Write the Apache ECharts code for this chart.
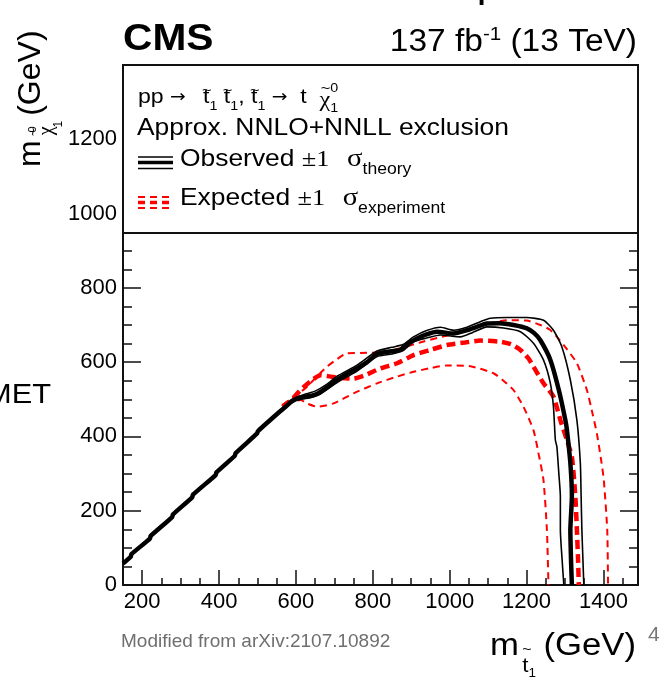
<!DOCTYPE html>
<html>
<head>
<meta charset="utf-8">
<script src="https://cdn.jsdelivr.net/npm/echarts@6/dist/echarts.min.js"></script>
<style>
  html, body { margin: 0; padding: 0; background: #fff; }
  #chart { width: 667px; height: 680px; }
</style>
</head>
<body>
<div id="chart"></div>
<script>
// stop mass (x) and neutralino mass (y), GeV
const obsStop = [150, 170, 172, 220, 222, 278, 280, 330, 332, 391, 393, 441, 443, 499, 501, 545, 573, 590, 603, 625, 646, 664, 685, 707, 735, 759, 785, 811, 840, 872, 880, 915, 940, 967, 1010, 1045, 1070, 1097, 1130, 1166, 1201, 1220, 1236, 1262, 1284, 1301, 1305, 1314, 1318, 1314, 1316, 1318];
const obsLsp = [58, 76, 83, 125, 132, 183, 190, 236, 243, 296, 303, 348, 355, 408, 414, 455, 480, 496, 502, 507, 511, 520, 535, 552, 570, 583, 600, 622, 628, 633, 641, 664, 675, 682, 677, 686, 695, 704, 705, 700, 691, 678, 659, 606, 525, 444, 418, 328, 238, 148, 58, 0];

const obsUpStop = [570, 600, 625, 650, 680, 707, 759, 811, 850, 880, 906, 940, 976, 1010, 1045, 1080, 1106, 1150, 1200, 1244, 1270, 1292, 1314, 1331, 1340, 1342, 1344, 1347, 1349];
const obsUpLsp = [478, 505, 514, 522, 540, 562, 592, 630, 640, 648, 668, 685, 694, 686, 694, 709, 718, 720, 720, 713, 686, 641, 552, 444, 328, 240, 148, 60, 0];

const obsDownStop = [570, 600, 640, 660, 707, 759, 811, 850, 880, 906, 940, 976, 1028, 1060, 1097, 1140, 1184, 1218, 1244, 1262, 1270, 1275, 1279, 1284, 1288, 1288, 1292, 1297];
const obsDownLsp = [475, 497, 505, 512, 545, 576, 615, 622, 632, 655, 665, 673, 668, 680, 695, 692, 682, 651, 606, 543, 480, 390, 372, 300, 238, 148, 76, 0];

const expStop = [565, 590, 612, 640, 664, 690, 720, 750, 780, 820, 863, 906, 950, 993, 1040, 1080, 1132, 1160, 1184, 1205, 1218, 1244, 1270, 1288, 1305, 1318, 1327, 1331, 1334, 1336];
const expLsp = [480, 500, 525, 550, 565, 561, 557, 556, 565, 583, 597, 619, 633, 646, 653, 658, 655, 648, 633, 610, 588, 543, 507, 444, 390, 345, 238, 148, 70, 0];

const expUpStop = [565, 600, 629, 655, 681, 707, 733, 785, 837, 880, 930, 980, 1030, 1080, 1149, 1200, 1236, 1260, 1279, 1305, 1331, 1357, 1372, 1383, 1395, 1401, 1410, 1412];
const expUpLsp = [485, 510, 534, 562, 588, 608, 624, 625, 628, 640, 655, 668, 680, 697, 713, 712, 700, 688, 668, 635, 597, 525, 460, 408, 330, 283, 148, 0];

const expDownStop = [575, 595, 612, 630, 655, 698, 750, 811, 863, 906, 950, 993, 1054, 1114, 1140, 1166, 1192, 1218, 1232, 1244, 1253, 1257];
const expDownLsp = [485, 495, 498, 488, 480, 489, 516, 543, 561, 574, 584, 591, 589, 570, 550, 525, 480, 417, 350, 283, 148, 0];

const xTicks = [200, 400, 600, 800, 1000, 1200, 1400];

const SANS = '"Liberation Sans", Arial, sans-serif';
const SERIF = '"Liberation Serif", "DejaVu Serif", serif';
const RED = '#ff0000';

function pairs(xs, ys) {
  return xs.map((x, i) => [x, ys[i]]);
}

// lay out a row of text pieces (sub/superscripts) along one baseline
const meas = document.createElement('canvas').getContext('2d');
function label(x, y, parts, opt) {
  opt = opt || {};
  let cx = 0;
  const kids = [];
  parts.forEach(p => {
    const ff = p.ff || SANS;
    const fw = p.fw || 'normal';
    meas.font = fw + ' ' + p.fs + 'px ' + ff;
    const w = meas.measureText(p.t).width;
    kids.push({
      type: 'text', z: 30,
      x: cx + (p.dx || 0),
      y: (p.dy || 0) - 0.35 * p.fs,
      style: {
        text: p.t, fontSize: p.fs, fontFamily: ff, fontWeight: fw,
        fill: opt.color || '#000', align: 'left', verticalAlign: 'middle'
      }
    });
    if (!p.stay) cx += w + (p.dx || 0);
  });
  if (opt.right) kids.forEach(k => { k.x -= cx; });
  return {
    type: 'group', x: x, y: y, z: 30,
    rotation: opt.rot || 0, scaleX: opt.sx || 1,
    children: kids
  };
}

function hline(x1, x2, y, color, width, dash) {
  return {
    type: 'line', z: 30,
    shape: { x1: x1, y1: y, x2: x2, y2: y },
    style: { stroke: color, lineWidth: width, lineDash: dash || null }
  };
}

const chart = echarts.init(document.getElementById('chart'));

const axisLine = { show: true, onZero: false, lineStyle: { color: '#111', width: 2 } };
const plain = v => String(v);

const option = {
  animation: false,
  backgroundColor: '#fff',
  grid: { left: 123, right: 29, top: 65, bottom: 95, containLabel: false, outerBoundsMode: 'none' },
  xAxis: [
    {
      type: 'value', min: 150, max: 1490, interval: 50, position: 'bottom',
      axisLine: axisLine,
      axisTick: { show: true, inside: true, length: 7, lineStyle: { color: '#111', width: 1.5 } },
      axisLabel: { show: false },
      splitLine: { show: false }
    },
    {
      type: 'value', min: 150, max: 1490, position: 'bottom',
      axisLine: { show: false },
      axisTick: { show: true, inside: true, length: 15, customValues: xTicks, lineStyle: { color: '#111', width: 1.5 } },
      axisLabel: { show: true, customValues: xTicks, margin: 6, fontSize: 22, fontFamily: SANS, color: '#000', formatter: plain },
      splitLine: { show: false }
    }
  ],
  yAxis: [
    {
      type: 'value', min: 0, max: 1400, interval: 200, position: 'left',
      axisLine: axisLine,
      axisTick: { show: true, inside: true, length: 18, lineStyle: { color: '#111', width: 1.5 } },
      minorTick: { show: true, splitNumber: 4, length: 9, lineStyle: { color: '#111', width: 1.5 } },
      axisLabel: { margin: 6, fontSize: 22, fontFamily: SANS, color: '#000', showMaxLabel: false, formatter: plain },
      splitLine: { show: false }
    },
    {
      type: 'value', min: 0, max: 1400, interval: 200, position: 'right',
      axisLine: axisLine,
      axisTick: { show: true, inside: true, length: 18, lineStyle: { color: '#111', width: 1.5 } },
      minorTick: { show: true, splitNumber: 4, length: 9, lineStyle: { color: '#111', width: 1.5 } },
      axisLabel: { show: false },
      splitLine: { show: false }
    }
  ],
  series: [
    { name: 'exp-1', type: 'line', data: pairs(expDownStop, expDownLsp), smooth: 0.2, showSymbol: false, z: 2,
      lineStyle: { color: RED, width: 2, type: [7, 5] } },
    { name: 'exp+1', type: 'line', data: pairs(expUpStop, expUpLsp), smooth: 0.2, showSymbol: false, z: 2,
      lineStyle: { color: RED, width: 2, type: [7, 5] } },
    { name: 'expected', type: 'line', data: pairs(expStop, expLsp), smooth: 0.2, showSymbol: false, z: 3,
      lineStyle: { color: RED, width: 4.5, type: [9, 5] } },
    { name: 'obs-1', type: 'line', data: pairs(obsDownStop, obsDownLsp), smooth: 0.2, showSymbol: false, z: 4,
      lineStyle: { color: '#000', width: 1.6 } },
    { name: 'obs+1', type: 'line', data: pairs(obsUpStop, obsUpLsp), smooth: 0.2, showSymbol: false, z: 4,
      lineStyle: { color: '#000', width: 1.6 } },
    { name: 'observed', type: 'line', data: pairs(obsStop, obsLsp), smooth: 0.2, showSymbol: false, z: 5,
      lineStyle: { color: '#000', width: 4.5 } }
  ],
  graphic: [
    // legend frame
    { type: 'rect', z: 20, shape: { x: 123, y: 65, width: 515, height: 168 },
      style: { fill: '#fff', stroke: '#111', lineWidth: 2 } },
    hline(138, 173, 157, '#000', 1.6),
    hline(138, 173, 162.5, '#000', 3.5),
    hline(138, 173, 168.5, '#000', 1.6),
    hline(138, 173, 197, RED, 2, [7, 5]),
    hline(138, 173, 202.5, RED, 3.5, [7, 5]),
    hline(138, 173, 208, RED, 2, [7, 5]),

    label(138, 105, [
      { t: 'pp ', fs: 21 },
      { t: '→', fs: 17, ff: '"DejaVu Sans"', dy: -1 },
      { t: '  ', fs: 21, dx: 4 },
      { t: '~', fs: 15, dy: -9, dx: -1, stay: true }, { t: 't', fs: 21 }, { t: '1', fs: 13, dy: 6 },
      { t: ' ', fs: 21 },
      { t: '~', fs: 15, dy: -9, dx: -1, stay: true }, { t: 't', fs: 21 }, { t: '1', fs: 13, dy: 6 },
      { t: ', ', fs: 21 },
      { t: '~', fs: 15, dy: -9, dx: -1, stay: true }, { t: 't', fs: 21 }, { t: '1', fs: 13, dy: 6 },
      { t: ' ', fs: 21 },
      { t: '→', fs: 17, ff: '"DejaVu Sans"', dy: -1 },
      { t: '  t  ', fs: 21 },
      { t: '~', fs: 15, dy: -11, dx: 1, stay: true }, { t: 'χ', fs: 22, ff: SERIF, dy: 3 },
      { t: '0', fs: 13, dy: -12, stay: true }, { t: '1', fs: 13, dy: 8 }
    ], { sx: 1.1 }),
    label(137, 137, [{ t: 'Approx. NNLO+NNLL exclusion', fs: 24 }], { sx: 1.1 }),
    label(180, 168, [
      { t: 'Observed ', fs: 24 },
      { t: '±', fs: 24, ff: SERIF }, { t: '1', fs: 24, ff: SERIF },
      { t: 'σ', fs: 26, ff: SERIF, dx: 16 },
      { t: 'theory', fs: 16, dy: 7 }
    ], { sx: 1.1 }),
    label(180, 207, [
      { t: 'Expected ', fs: 24 },
      { t: '±', fs: 24, ff: SERIF }, { t: '1', fs: 24, ff: SERIF },
      { t: 'σ', fs: 26, ff: SERIF, dx: 16 },
      { t: 'experiment', fs: 16, dy: 7 }
    ], { sx: 1.1 }),

    // header
    label(123, 53, [{ t: 'CMS', fs: 37, fw: 'bold' }], { sx: 1.1 }),
    label(637, 53, [
      { t: '137 fb', fs: 31 },
      { t: '-1', fs: 19, dy: -12 },
      { t: ' (13 TeV)', fs: 31 }
    ], { sx: 1.08, right: true }),
    label(462, -1, [{ t: 'q', fs: 44 }]),

    // axis titles
    label(42, 167, [
      { t: 'm', fs: 32 },
      { t: '~', fs: 15, dy: -3, dx: 4, stay: true },
      { t: 'χ', fs: 20, ff: SERIF, dy: 12, dx: 5 },
      { t: '0', fs: 11, dy: -5, dx: -6, stay: true },
      { t: '1', fs: 12, dy: 21, dx: -1 },
      { t: '(GeV)', fs: 32, dx: 5 }
    ], { rot: Math.PI / 2 }),
    label(490, 657, [
      { t: 'm', fs: 31 },
      { t: '~', fs: 14, dy: -2, dx: 3, stay: true },
      { t: 't', fs: 20, dy: 16, dx: 3 },
      { t: '1', fs: 12, dy: 21 },
      { t: ' (GeV)', fs: 31, dx: -2 }
    ], { sx: 1.12 }),

    // slide leftovers
    label(51, 405, [{ t: 'MET', fs: 28 }], { sx: 1.1, right: true }),
    label(121, 648, [{ t: 'Modified from arXiv:2107.10892', fs: 19 }], { color: '#6f6f6f' }),
    label(648, 643, [{ t: '4', fs: 21 }], { color: '#777' })
  ]
};

chart.setOption(option);
</script>
</body>
</html>
